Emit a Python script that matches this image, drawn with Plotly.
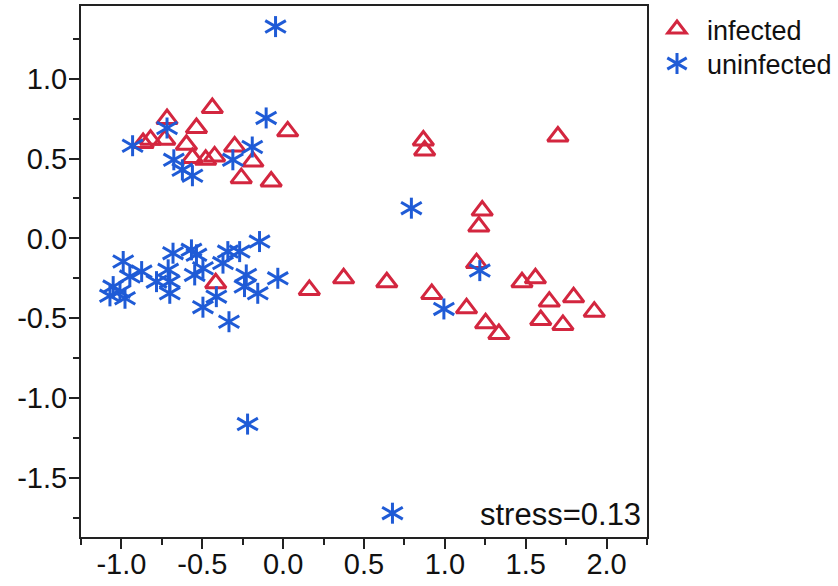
import plotly.graph_objects as go

# NMDS ordination coordinates (MDS1, MDS2) per sample
infected_x = [-0.866, -0.820, -0.718, -0.732, -0.536, -0.438, -0.598, -0.561, -0.479, -0.424,
              -0.300, -0.187, -0.259, -0.074, 0.028,
              0.867, 0.875, 1.699, 1.231, 1.210,
              -0.417, 0.162, 0.374, 0.641, 0.919, 1.196, 1.134, 1.252, 1.334, 1.477,
              1.560, 1.646, 1.796, 1.593, 1.730, 1.924]
infected_y = [0.597, 0.618, 0.747, 0.618, 0.691, 0.816, 0.586, 0.503, 0.492, 0.513,
              0.576, 0.481, 0.377, 0.356, 0.670,
              0.613, 0.550, 0.638, 0.174, 0.074,
              -0.281, -0.323, -0.250, -0.275, -0.348, -0.155, -0.438, -0.532, -0.599, -0.275,
              -0.250, -0.396, -0.369, -0.511, -0.542, -0.459]

uninfected_x = [-0.047, -0.931, -0.718, -0.676, -0.623, -0.561, -0.311, -0.191, -0.105,
                0.793, 1.216, 0.994, -0.220, 0.676,
                -1.051, -1.009, -0.978, -1.071, -0.989, -0.948, -0.875, -0.783, -0.711, -0.701,
                -0.701, -0.681, -0.567, -0.536, -0.547, -0.496, -0.372, -0.342, -0.269, -0.146,
                -0.228, -0.239, -0.157, -0.033, -0.413, -0.496, -0.335]
uninfected_y = [1.326, 0.580, 0.691, 0.492, 0.429, 0.392, 0.492, 0.572, 0.754,
                0.189, -0.202, -0.442, -1.163, -1.721,
                -0.302, -0.334, -0.375, -0.360, -0.145, -0.239, -0.208, -0.271, -0.197, -0.271,
                -0.344, -0.093, -0.072, -0.103, -0.229, -0.187, -0.155, -0.083, -0.083, -0.020,
                -0.229, -0.302, -0.344, -0.250, -0.365, -0.431, -0.522]

x_tick_vals = [-1.0, -0.5, 0.0, 0.5, 1.0, 1.5, 2.0]
x_tick_text = ["-1.0", "-0.5", "0.0", "0.5", "1.0", "1.5", "2.0"]
y_tick_vals = [-1.5, -1.0, -0.5, 0.0, 0.5, 1.0]
y_tick_text = ["-1.5", "-1.0", "-0.5", "0.0", "0.5", "1.0"]

stress_value = 0.13

RED = "#D3263F"
BLUE = "#1F5BD6"
FONT = "Liberation Sans, Arial, sans-serif"

fig = go.Figure()

fig.add_trace(go.Scatter(
    x=infected_x, y=infected_y, mode="markers", name="infected", legend="legend",
    marker=dict(symbol="triangle-up-open", size=18, color=RED, line=dict(width=3, color=RED)),
))

# six-armed asterisk: one vertical stroke plus two rotated strokes
star_parts = [("legend2", 0, 15), ("legend3", 60, 17), ("legend4", -60, 17)]
for leg, ang, sz in star_parts:
    fig.add_trace(go.Scatter(
        x=uninfected_x, y=uninfected_y, mode="markers", name="uninfected", legend=leg,
        marker=dict(symbol="line-ns-open", size=sz, angle=ang, color=BLUE,
                    line=dict(width=3, color=BLUE)),
    ))

axis_common = dict(
    showline=True, linecolor="#222222", linewidth=2, mirror=True,
    ticks="outside", ticklen=10, tickwidth=1.5, tickcolor="#222222",
    tickmode="array", showgrid=False, zeroline=False,
    tickfont=dict(family=FONT, size=29, color="#111111"),
    minor=dict(tickmode="linear", tick0=0, dtick=0.25, ticks="outside", ticklen=6,
               tickwidth=1.5, tickcolor="#222222", showgrid=False),
)

fig.update_xaxes(range=[-1.25, 2.25], tickvals=x_tick_vals, ticktext=x_tick_text,
                 ticklabelstandoff=-10, **axis_common)
fig.update_yaxes(range=[-1.87, 1.455], tickvals=y_tick_vals, ticktext=y_tick_text,
                 ticklabelstandoff=-4, **axis_common)

leg_common = dict(xanchor="left", yanchor="top", x=1.0, itemwidth=50,
                  bgcolor="rgba(0,0,0,0)", borderwidth=0)
row1_y = 1.002
row2_y = 0.937

fig.update_layout(
    width=838, height=586,
    margin=dict(l=81, r=191, t=6, b=49, autoexpand=False),
    paper_bgcolor="white", plot_bgcolor="white",
    showlegend=True,
    legend=dict(y=row1_y, font=dict(family=FONT, size=27, color="#111111"), **leg_common),
    legend2=dict(y=row2_y, font=dict(family=FONT, size=27, color="#111111"), **leg_common),
    legend3=dict(y=row2_y, font=dict(family=FONT, size=27, color="rgba(0,0,0,0)"), **leg_common),
    legend4=dict(y=row2_y, font=dict(family=FONT, size=27, color="rgba(0,0,0,0)"), **leg_common),
    annotations=[dict(
        text=f"stress={stress_value:.2f}", xref="x domain", yref="y domain",
        x=0.993, y=0.0, xanchor="right", yanchor="bottom", yshift=3, showarrow=False,
        font=dict(family=FONT, size=31, color="#111111"),
    )],
)

fig.write_html("out.html")
